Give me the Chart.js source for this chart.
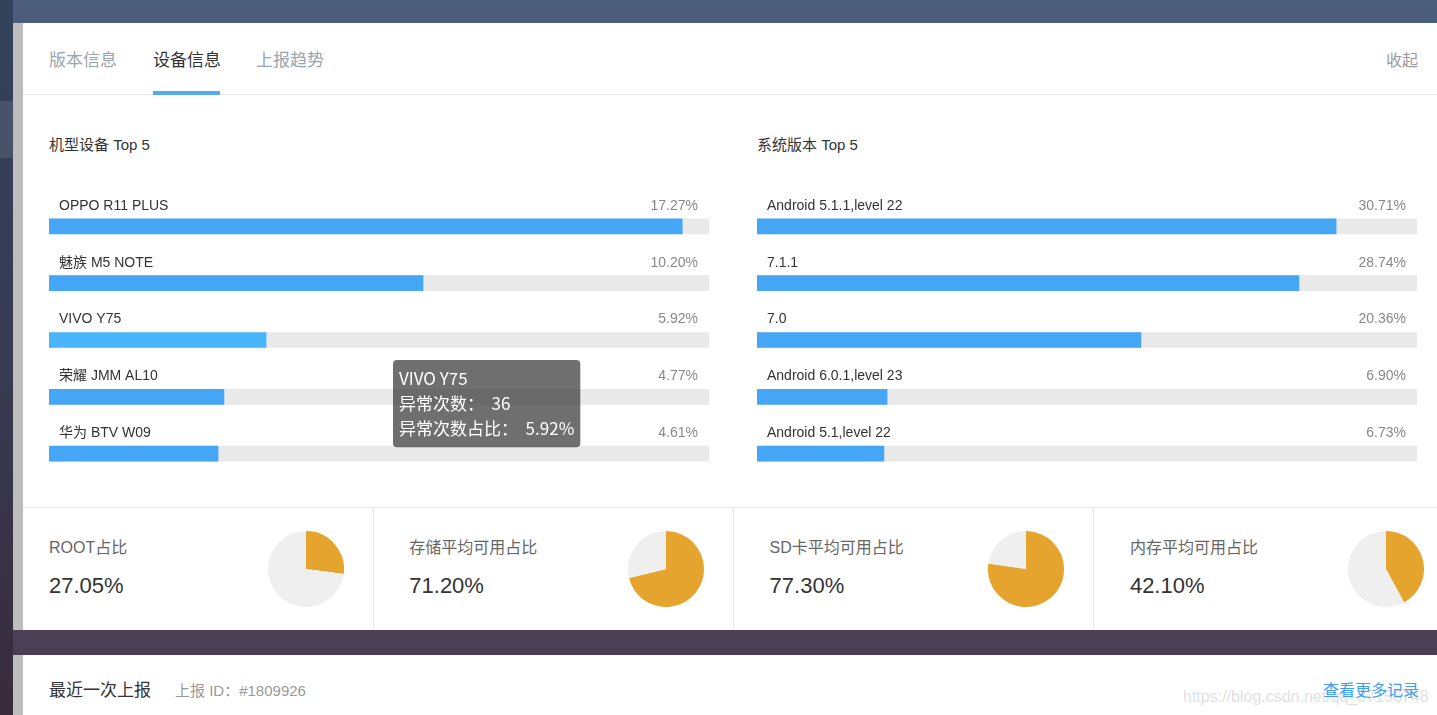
<!DOCTYPE html>
<html>
<head>
<meta charset="utf-8">
<script src="https://cdn.jsdelivr.net/npm/chart.js@4.4.1/dist/chart.umd.min.js"></script>
<style>
html, body { margin: 0; padding: 0; }
body {
  width: 1437px; height: 715px; overflow: hidden; position: relative;
  background: linear-gradient(#4b5e7c 0%, #474a62 45%, #4b3c51 100%);
  font-family: "Liberation Sans", Arial, "Noto Sans CJK SC", sans-serif;
}
.abs { position: absolute; white-space: nowrap; }
#side { left: 0; top: 0; width: 13px; height: 715px; background: linear-gradient(#33425b, #373b52 50%, #392b3b); }
#sideHi { left: 0; top: 101px; width: 13px; height: 57px; background: rgba(255,255,255,0.1); }
.panel { position: absolute; left: 13px; right: 0; background: #fff; border-left: 10px solid #bdbdbd; }
#p1 { top: 23px; height: 607px; }
#p2 { top: 655px; height: 60px; }
.tab { font-size: 17px; line-height: 20px; top: 51px; color: #9aa6ae; }
.line { position: absolute; background: #e8e8e8; }
.title { font-size: 15px; line-height: 18px; top: 136px; color: #333; }
.cardLabel { font-size: 16px; line-height: 20px; top: 538px; color: #666; }
.cardValue { font-size: 22px; line-height: 26px; top: 573px; color: #333; }
canvas { position: absolute; }
</style>
</head>
<body>
<div id="side" class="abs"></div>
<div id="sideHi" class="abs"></div>
<div id="p1" class="panel"></div>
<div id="p2" class="panel"></div>

<div class="abs tab" style="left:49px">版本信息</div>
<div class="abs tab" style="left:153px;color:#333">设备信息</div>
<div class="abs tab" style="left:256px">上报趋势</div>
<div class="line" style="left:23px;right:0;top:94px;height:1px"></div>
<div class="abs" style="left:153px;top:91px;width:67px;height:4px;background:#55aaf0"></div>
<div class="abs" style="left:1386px;top:51px;font-size:16px;line-height:20px;color:#999">收起</div>

<div class="abs title" style="left:49px">机型设备 Top 5</div>
<div class="abs title" style="left:757px">系统版本 Top 5</div>

<canvas id="modelChart" width="660" height="284" style="left:49px;top:198px"></canvas>
<canvas id="osChart" width="660" height="284" style="left:757px;top:198px"></canvas>

<div class="line" style="left:23px;right:0;top:507px;height:1px"></div>
<div class="line" style="left:373px;top:507px;width:1px;height:123px"></div>
<div class="line" style="left:733px;top:507px;width:1px;height:123px"></div>
<div class="line" style="left:1093px;top:507px;width:1px;height:123px"></div>
<div id="cards"></div>

<div class="abs" style="left:49px;top:681px;font-size:17px;line-height:20px;color:#333">最近一次上报</div>
<div class="abs" style="left:175px;top:682px;font-size:15px;line-height:18px;color:#999">上报 ID：#1809926</div>
<div class="abs" style="left:1183px;top:687px;font-size:16px;line-height:20px;color:rgba(185,185,185,0.45)">https://blog.csdn.net/qq_37156748</div>
<div class="abs" style="left:1323px;top:681px;font-size:16px;line-height:20px;color:#3c9ef0">查看更多记录</div>

<script>
// 机型设备 Top 5
const modelNames = ['OPPO R11 PLUS', '魅族 M5 NOTE', 'VIVO Y75', '荣耀 JMM AL10', '华为 BTV W09'];
const modelPercent = [17.27, 10.20, 5.92, 4.77, 4.61];
const modelCounts = [105, 62, 36, 29, 28];

// 系统版本 Top 5
const osNames = ['Android 5.1.1,level 22', '7.1.1', '7.0', 'Android 6.0.1,level 23', 'Android 5.1,level 22'];
const osPercent = [30.71, 28.74, 20.36, 6.90, 6.73];

// 占比卡片
const pieNames = ['ROOT占比', '存储平均可用占比', 'SD卡平均可用占比', '内存平均可用占比'];
const pieValues = [27.05, 71.20, 77.30, 42.10];

const FONT = '"Liberation Sans", Arial, "Noto Sans CJK SC", sans-serif';

// draws name above each bar and the percent on the right
const rowLabels = {
  id: 'rowLabels',
  afterDatasetsDraw(chart, args, opts) {
    const c = chart.ctx;
    const area = chart.chartArea;
    const meta = chart.getDatasetMeta(1);
    c.save();
    c.font = '14px ' + FONT;
    c.textBaseline = 'middle';
    meta.data.forEach((bar, i) => {
      const y = bar.y - bar.height / 2 - 13;
      c.fillStyle = '#333';
      c.textAlign = 'left';
      c.fillText(chart.data.labels[i], area.left + 10, y);
      c.fillStyle = '#888';
      c.textAlign = 'right';
      c.fillText(opts.values[i].toFixed(2) + '%', area.right - 11, y);
    });
    c.restore();
  }
};

Chart.Tooltip.positioners.cursor = function (elements, pos) {
  return pos;
};

function barChart(el, names, values, max, tip) {
  return new Chart(el, {
    type: 'bar',
    data: {
      labels: names,
      datasets: [{
        data: values,
        backgroundColor: '#44a6f5',
        hoverBackgroundColor: '#49b5fb',
        barThickness: 15,
        grouped: false,
        borderWidth: 0,
        order: 0
      }, {
        data: names.map(() => max),
        backgroundColor: '#e9e9e9',
        hoverBackgroundColor: '#e9e9e9',
        barThickness: 15,
        grouped: false,
        borderWidth: 0,
        order: 1
      }]
    },
    options: {
      indexAxis: 'y',
      responsive: false,
      animation: false,
      events: [],
      layout: { padding: 0 },
      scales: {
        x: { display: false, min: 0, max: max },
        y: { display: false }
      },
      plugins: {
        legend: { display: false },
        rowLabels: { values: values },
        tooltip: tip || { enabled: false }
      }
    },
    plugins: [rowLabels]
  });
}

const modelChart = barChart(document.getElementById('modelChart'), modelNames, modelPercent, 18, {
  position: 'cursor',
  xAlign: 'left',
  yAlign: 'top',
  caretSize: 0,
  caretPadding: 0,
  cornerRadius: 4,
  backgroundColor: 'rgba(50,50,50,0.7)',
  displayColors: false,
  padding: { top: 8, bottom: 8, left: 6, right: 6 },
  titleFont: { family: '"Noto Sans CJK SC", sans-serif', size: 17, weight: 'normal' },
  bodyFont: { family: '"Noto Sans CJK SC", sans-serif', size: 17 },
  titleMarginBottom: 5,
  bodySpacing: 5,
  filter: item => item.datasetIndex === 0,
  callbacks: {
    title: items => items[0].label,
    label: item => ['异常次数：  ' + modelCounts[item.dataIndex],
                    '异常次数占比：  ' + modelPercent[item.dataIndex].toFixed(2) + '%']
  }
});
barChart(document.getElementById('osChart'), osNames, osPercent, 35);

// hovered VIVO Y75 row with its tooltip
const hovered = [{ datasetIndex: 0, index: 2 }];
modelChart.setActiveElements(hovered);
modelChart.tooltip.setActiveElements(hovered, { x: 348, y: 162 });
modelChart.update();

// four ratio cards with pies
const cards = document.getElementById('cards');
pieValues.forEach((v, i) => {
  const left = 49 + i * 360.3;
  const lab = document.createElement('div');
  lab.className = 'abs cardLabel';
  lab.style.left = left + 'px';
  lab.textContent = pieNames[i];
  const val = document.createElement('div');
  val.className = 'abs cardValue';
  val.style.left = left + 'px';
  val.textContent = v.toFixed(2) + '%';
  const cv = document.createElement('canvas');
  cv.width = 76;
  cv.height = 76;
  cv.style.left = (267.5 + i * 360.2) + 'px';
  cv.style.top = '531px';
  cards.appendChild(lab);
  cards.appendChild(val);
  cards.appendChild(cv);
  new Chart(cv, {
    type: 'pie',
    data: {
      labels: [pieNames[i], ''],
      datasets: [{
        data: [v, 100 - v],
        backgroundColor: ['#e4a42e', '#efefef'],
        borderWidth: 0
      }]
    },
    options: {
      responsive: false,
      animation: false,
      events: [],
      layout: { padding: 0 },
      plugins: { legend: { display: false }, tooltip: { enabled: false } }
    }
  });
});
</script>
</body>
</html>
